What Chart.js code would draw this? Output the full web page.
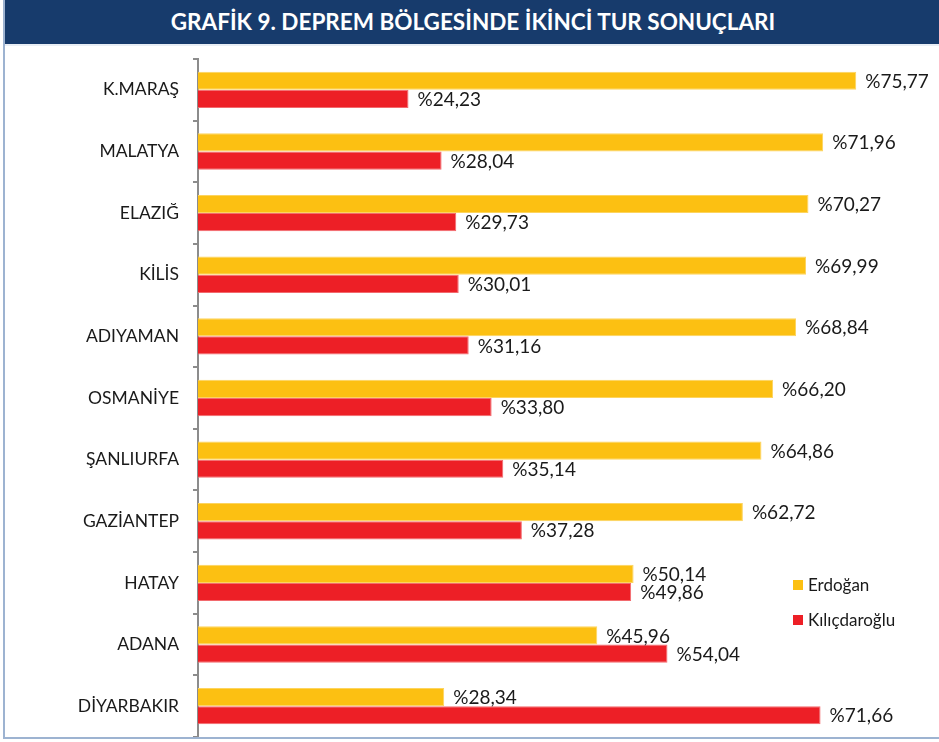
<!DOCTYPE html>
<html>
<head>
<meta charset="utf-8">
<script src="https://cdn.jsdelivr.net/npm/chart.js@4.4.0/dist/chart.umd.min.js"></script>
<style>
  body { margin: 0; background: #fff; }
  .frame { position: absolute; left: 3px; top: 0; width: 936px; height: 737px; border-left: 2px solid #9db3d1; border-bottom: 2px solid #9db3d1; }
  .title { position: absolute; left: 0; top: 0; width: 936px; height: 44px; background: #173b6c; color: #fff;
           font: bold 22.5px Lato, sans-serif; text-align: center; line-height: 44px; border-bottom: 2px solid #e9eef5; }
  .chart__box { position: absolute; left: 2px; top: 46px; width: 932px; height: 691px; }
</style>
</head>
<body>
<div class="frame">
  <div class="title">GRAFİK 9. DEPREM BÖLGESİNDE İKİNCİ TUR SONUÇLARI</div>
  <div class="chart__box"><canvas id="barChart_secondRound" width="932" height="691"></canvas></div>
</div>
<script>
const provinces = ['K.MARAŞ', 'MALATYA', 'ELAZIĞ', 'KİLİS', 'ADIYAMAN', 'OSMANİYE', 'ŞANLIURFA', 'GAZİANTEP', 'HATAY', 'ADANA', 'DİYARBAKIR'];
const erdogan = [75.77, 71.96, 70.27, 69.99, 68.84, 66.20, 64.86, 62.72, 50.14, 45.96, 28.34];
const kilicdaroglu = [24.23, 28.04, 29.73, 30.01, 31.16, 33.80, 35.14, 37.28, 49.86, 54.04, 71.66];
const seriesNames = ['Erdoğan', 'Kılıçdaroğlu'];
const seriesColors = ['#fcc012', '#ed1f26'];

// value labels at the end of each bar
const barLabels = {
    id: 'barLabels',
    afterDatasetsDraw(chart) {
        const ctx = chart.ctx
        ctx.save()
        ctx.font = '19px Lato, sans-serif'
        ctx.fillStyle = '#1a1a1a'
        ctx.textAlign = 'left'
        ctx.textBaseline = 'middle'
        chart.data.datasets.forEach((ds, i) => {
            chart.getDatasetMeta(i).data.forEach((bar, j) => {
                let txt = '%' + ds.data[j].toFixed(2).replace('.', ',')
                ctx.fillText(txt, bar.x + 9, bar.y + 1)
            })
        })
        ctx.restore()
    }
}

// legend drawn inside the plot, lower right
const innerLegend = {
    id: 'innerLegend',
    afterDraw(chart) {
        const ctx = chart.ctx
        const area = chart.chartArea
        ctx.save()
        ctx.font = '17px Lato, sans-serif'
        ctx.textBaseline = 'middle'
        chart.data.datasets.forEach((ds, i) => {
            let x = area.right - 100
            let y = area.top + 526 + i * 35
            ctx.fillStyle = ds.backgroundColor
            ctx.fillRect(x, y - 5, 10, 10)
            ctx.fillStyle = '#1a1a1a'
            ctx.fillText(ds.label, x + 15, y + 1)
        })
        ctx.restore()
    }
}

new Chart(document.querySelector('#barChart_secondRound'), {
    type: 'bar',
    data: {
        labels: provinces,
        datasets: [{
            label: seriesNames[0],
            data: erdogan,
            backgroundColor: seriesColors[0],
            borderColor: '#fdd45e',
            borderWidth: 1
        }, {
            label: seriesNames[1],
            data: kilicdaroglu,
            backgroundColor: seriesColors[1],
            borderColor: '#f26a6e',
            borderWidth: 1
        }]
    },
    options: {
        indexAxis: 'y',
        responsive: false,
        animation: false,
        datasets: {
            bar: {
                categoryPercentage: 0.59,
                barPercentage: 1.0
            }
        },
        layout: {
            padding: { top: 13, bottom: 0, left: 0, right: 46 }
        },
        scales: {
            x: {
                display: false,
                min: 0,
                max: 80
            },
            y: {
                afterFit: (scale) => {
                    scale.width = 191
                    // no extra room above/below for label halves
                    scale.paddingTop = 0
                    scale.paddingBottom = 0
                },
                border: { display: true, color: '#8c8c8c', width: 2 },
                grid: {
                    offset: true,
                    drawOnChartArea: false,
                    drawTicks: true,
                    tickLength: 5,
                    color: '#8c8c8c',
                    lineWidth: 2
                },
                ticks: {
                    color: '#1a1a1a',
                    padding: 14,
                    font: { family: 'Lato, sans-serif', size: 17.5 }
                }
            }
        },
        plugins: {
            legend: { display: false },
            tooltip: { enabled: false }
        }
    },
    plugins: [barLabels, innerLegend]
});
</script>
</body>
</html>
